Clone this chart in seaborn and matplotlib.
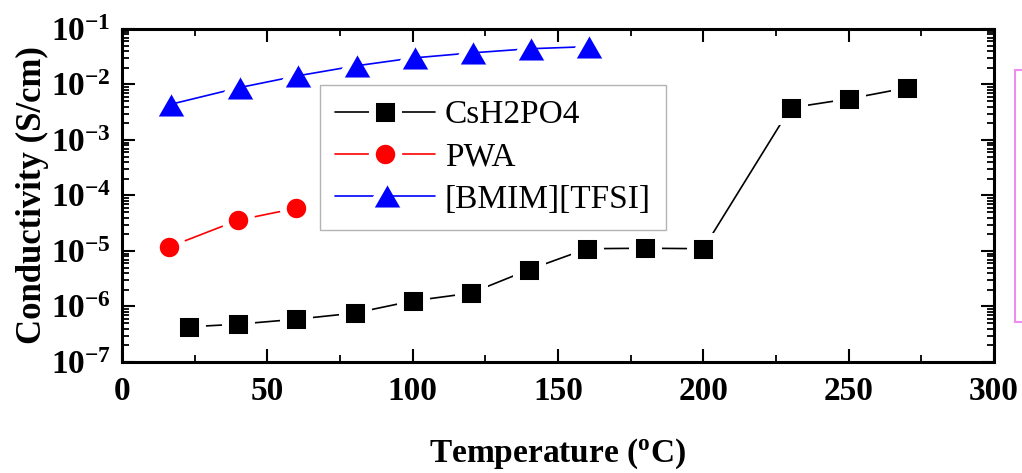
import matplotlib
matplotlib.use("Agg")
import matplotlib.pyplot as plt
import seaborn as sns
import numpy as np
import pandas as pd
from matplotlib.ticker import FuncFormatter, LogLocator, MultipleLocator
from matplotlib.lines import Line2D

# ---- data ----
csh2po4_T = [23, 40, 60, 80, 100, 120, 140, 160, 180, 200, 230, 250, 270]
csh2po4_sigma = [4.3e-7, 4.8e-7, 5.9e-7, 7.6e-7, 1.26e-6, 1.74e-6, 4.6e-6,
                 1.1e-5, 1.12e-5, 1.1e-5, 3.8e-3, 5.5e-3, 8.7e-3]
pwa_T = [16, 40, 60]
pwa_sigma = [1.17e-5, 3.6e-5, 5.9e-5]
bmim_T = [16, 40, 60, 80, 100, 120, 140, 160]
bmim_sigma = [4.3e-3, 8.7e-3, 1.42e-2, 2.15e-2, 3.0e-2, 3.7e-2, 4.4e-2, 4.8e-2]
series_names = ["CsH2PO4", "PWA", "[BMIM][TFSI]"]
x_ticks = [0, 50, 100, 150, 200, 250, 300]

sns.set_theme(style="ticks")
plt.rcParams["font.family"] = ["Liberation Serif", "DejaVu Serif"]
plt.rcParams["mathtext.fontset"] = "custom"
plt.rcParams["mathtext.rm"] = "Liberation Serif:bold"
plt.rcParams["mathtext.bf"] = "Liberation Serif:bold"
plt.rcParams["mathtext.it"] = "Liberation Serif:bold"
for k in ["text.color", "axes.labelcolor", "xtick.color", "ytick.color",
          "xtick.labelcolor", "ytick.labelcolor", "axes.edgecolor"]:
    plt.rcParams[k] = "black"

fig = plt.figure(figsize=(10.22, 4.73), dpi=100)
ax = fig.add_axes([0.1194, 0.2347, 0.8532, 0.7040])

tri = [(0, 1), (-1.15, -1), (1.15, -1)]
specs = [
    (csh2po4_T, csh2po4_sigma, "black", "s", 18.5),
    (pwa_T, pwa_sigma, "red", "o", 19.0),
    (bmim_T, bmim_sigma, "blue", tri, 24.0),
]
for name, (xs, ys, col, mk, ms) in zip(series_names, specs):
    df = pd.DataFrame({"T": xs, "sigma": ys})
    sns.lineplot(data=df, x="T", y="sigma", ax=ax, color=col, marker=mk,
                 markersize=ms, markeredgecolor="white", markeredgewidth=5,
                 linewidth=1.2, label=name, sort=False)

ax.set_yscale("log")
ax.set_xlim(0, 300)
ax.set_ylim(1e-7, 1e-1)
ax.set_xticks(x_ticks)
ax.xaxis.set_minor_locator(MultipleLocator(25))
ax.yaxis.set_major_locator(LogLocator(base=10, numticks=20))
ax.yaxis.set_minor_locator(LogLocator(base=10, subs=np.arange(2, 10), numticks=20))
ax.yaxis.set_major_formatter(FuncFormatter(lambda v, p: r"$\mathbf{10^{%d}}$" % round(np.log10(v))))
ax.xaxis.set_major_formatter(FuncFormatter(lambda v, p: "%d" % v))

ax.tick_params(axis="both", which="major", direction="in", length=9.5, width=1.5,
               top=True, right=True, labelsize=24, pad=8)
ax.tick_params(axis="both", which="minor", direction="in", length=5, width=1.3,
               top=True, right=True)
ax.tick_params(axis="x", which="major", pad=10)
for lab in ax.get_xticklabels():
    lab.set_fontweight("bold")
for s in ax.spines.values():
    s.set_linewidth(2.2)
    s.set_color("black")

ax.set_xlabel(r"Temperature ($\mathbf{^{o}}$C)", fontsize=24, fontweight="bold", labelpad=21)
ax.set_ylabel("Conductivity (S/cm)", fontsize=25, fontweight="bold", labelpad=1)

leg = ax.legend(loc="upper left", bbox_to_anchor=(0.227, 0.832), borderaxespad=0,
                fontsize=24, frameon=True, fancybox=False, edgecolor="#a0a0a0",
                handlelength=3.0, handletextpad=0.3, labelspacing=0.35,
                borderpad=0.45, numpoints=1)
leg.get_frame().set_linewidth(1.0)

# partial bracket of a neighbouring panel at the right edge
pink = "#f08cf0"
fig.add_artist(Line2D([0.9932, 0.9932], [0.319, 0.852], transform=fig.transFigure, color=pink, lw=1.5))
fig.add_artist(Line2D([0.9932, 1.0], [0.852, 0.852], transform=fig.transFigure, color=pink, lw=1.5))
fig.add_artist(Line2D([0.9932, 1.0], [0.319, 0.319], transform=fig.transFigure, color=pink, lw=1.5))

fig.savefig("out.png", dpi=100)
